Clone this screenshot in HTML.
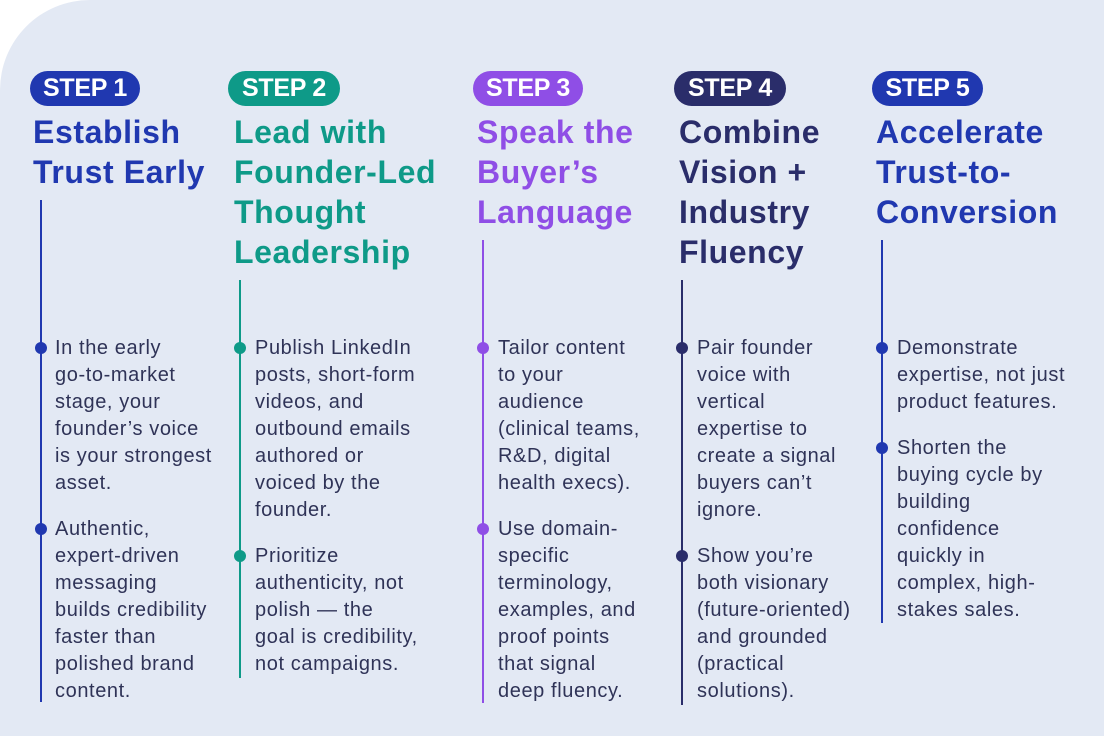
<!DOCTYPE html>
<html><head><meta charset="utf-8"><style>
html,body{margin:0;padding:0}
body{width:1104px;height:736px;background:#fff;position:relative;overflow:hidden;font-family:"Liberation Sans","DejaVu Sans",sans-serif}
.bg{position:absolute;left:0;top:0;width:1104px;height:736px;background:#e3e9f4;border-top-left-radius:90px}
.badge{position:absolute;top:71px;height:35px;border-radius:18px;color:#fff;font-weight:bold;font-size:25px;line-height:35px;text-align:center;letter-spacing:-0.3px}
.title{position:absolute;top:112px;font-weight:bold;font-size:32px;line-height:40px;white-space:nowrap;letter-spacing:0.6px}
.line{position:absolute;width:2px}
.dot{position:absolute;width:12px;height:12px;border-radius:50%}
.txt{position:absolute;font-size:20px;line-height:27px;white-space:nowrap;letter-spacing:0.6px;color:#2f3357}
</style></head><body>
<div class="bg"></div>

<!-- col1 -->
<div class="badge" style="left:30px;width:110px;background:#2038b0">STEP 1</div>
<div class="title" style="left:33px;color:#2038b0">Establish<br>Trust Early</div>
<div class="line" style="left:40px;top:200px;height:502px;background:#2038b0"></div>
<div class="dot" style="left:35px;top:342px;background:#2038b0"></div>
<div class="dot" style="left:35px;top:523px;background:#2038b0"></div>
<div class="txt" style="left:55px;top:335px">In the early<br>go-to-market<br>stage, your<br>founder’s voice<br>is your strongest<br>asset.</div>
<div class="txt" style="left:55px;top:516px">Authentic,<br>expert-driven<br>messaging<br>builds credibility<br>faster than<br>polished brand<br>content.</div>

<!-- col2 -->
<div class="badge" style="left:228px;width:112px;background:#0e9a88">STEP 2</div>
<div class="title" style="left:234px;color:#0e9a88">Lead with<br>Founder-Led<br>Thought<br>Leadership</div>
<div class="line" style="left:239px;top:280px;height:398px;background:#0e9a88"></div>
<div class="dot" style="left:234px;top:342px;background:#0e9a88"></div>
<div class="dot" style="left:234px;top:550px;background:#0e9a88"></div>
<div class="txt" style="left:255px;top:335px">Publish LinkedIn<br>posts, short-form<br>videos, and<br>outbound emails<br>authored or<br>voiced by the<br>founder.</div>
<div class="txt" style="left:255px;top:543px">Prioritize<br>authenticity, not<br>polish — the<br>goal is credibility,<br>not campaigns.</div>

<!-- col3 -->
<div class="badge" style="left:473px;width:110px;background:#8f4ee6">STEP 3</div>
<div class="title" style="left:477px;color:#8f4ee6">Speak the<br>Buyer’s<br>Language</div>
<div class="line" style="left:482px;top:240px;height:463px;background:#8f4ee6"></div>
<div class="dot" style="left:477px;top:342px;background:#8f4ee6"></div>
<div class="dot" style="left:477px;top:523px;background:#8f4ee6"></div>
<div class="txt" style="left:498px;top:335px">Tailor content<br>to your<br>audience<br>(clinical teams,<br>R&amp;D, digital<br>health execs).</div>
<div class="txt" style="left:498px;top:516px">Use domain-<br>specific<br>terminology,<br>examples, and<br>proof points<br>that signal<br>deep fluency.</div>

<!-- col4 -->
<div class="badge" style="left:674px;width:112px;background:#2a2d6a">STEP 4</div>
<div class="title" style="left:679px;color:#2a2d6a">Combine<br>Vision +<br>Industry<br>Fluency</div>
<div class="line" style="left:681px;top:280px;height:425px;background:#2a2d6a"></div>
<div class="dot" style="left:676px;top:342px;background:#2a2d6a"></div>
<div class="dot" style="left:676px;top:550px;background:#2a2d6a"></div>
<div class="txt" style="left:697px;top:335px">Pair founder<br>voice with<br>vertical<br>expertise to<br>create a signal<br>buyers can’t<br>ignore.</div>
<div class="txt" style="left:697px;top:543px">Show you’re<br>both visionary<br>(future-oriented)<br>and grounded<br>(practical<br>solutions).</div>

<!-- col5 -->
<div class="badge" style="left:872px;width:111px;background:#2038b0">STEP 5</div>
<div class="title" style="left:876px;color:#2038b0">Accelerate<br>Trust-to-<br>Conversion</div>
<div class="line" style="left:881px;top:240px;height:383px;background:#2038b0"></div>
<div class="dot" style="left:876px;top:342px;background:#2038b0"></div>
<div class="dot" style="left:876px;top:442px;background:#2038b0"></div>
<div class="txt" style="left:897px;top:335px">Demonstrate<br>expertise, not just<br>product features.</div>
<div class="txt" style="left:897px;top:435px">Shorten the<br>buying cycle by<br>building<br>confidence<br>quickly in<br>complex, high-<br>stakes sales.</div>
</body></html>
